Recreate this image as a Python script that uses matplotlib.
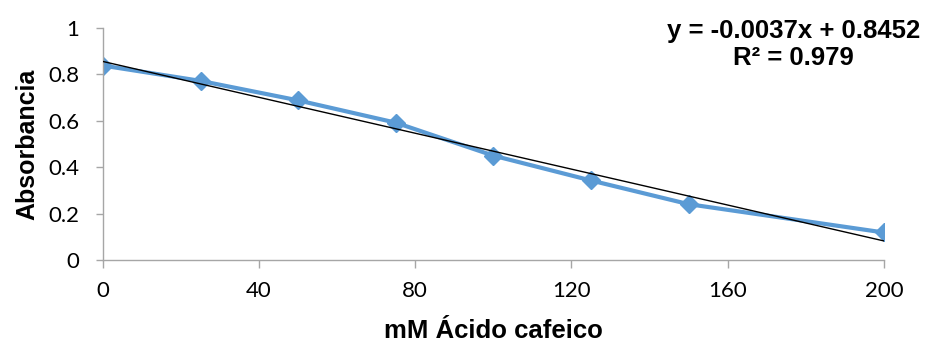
import matplotlib

matplotlib.use("Agg")
import matplotlib.pyplot as plt  # noqa: E402
import numpy as np  # noqa: E402

# Data
conc_mM = [0, 25, 50, 75, 100, 125, 150, 200]
absorbance = [0.838, 0.772, 0.688, 0.592, 0.450, 0.343, 0.241, 0.119]
# equation as printed on the chart
eq_slope, eq_intercept = -0.0037, 0.8452
r_squared = 0.979
x_ticks = [0, 40, 80, 120, 160, 200]
y_ticks = [0, 0.2, 0.4, 0.6, 0.8, 1]

plt.rcParams["font.family"] = ["Liberation Sans", "DejaVu Sans"]

fig = plt.figure(figsize=(9.27, 3.45), dpi=100)
ax = fig.add_axes([0.111, 0.246, 0.8425, 0.673])

ax.plot(conc_mM, absorbance, color="#5B9BD5", lw=3, marker="D", ms=9,
        zorder=2, solid_joinstyle="round")

# linear trendline (least squares on the plotted points)
fit = np.polyfit(conc_mM, absorbance, 1)
xfit = np.array([conc_mM[0], conc_mM[-1]])
ax.plot(xfit, np.polyval(fit, xfit), color="black", lw=1, zorder=3)

ax.set_xlim(0, 200)
ax.set_ylim(0, 1)
ax.set_xticks(x_ticks)
ax.set_yticks(y_ticks)
ax.set_xticklabels([str(v) for v in x_ticks], family="Lato")
ax.set_yticklabels(["0", "0.2", "0.4", "0.6", "0.8", "1"], family="Lato")

for side in ("top", "right"):
    ax.spines[side].set_visible(False)
for side in ("left", "bottom"):
    ax.spines[side].set_color("#A6A6A6")
    ax.spines[side].set_linewidth(1)
ax.tick_params(axis="both", colors="#A6A6A6", labelcolor="black",
               labelsize=16, width=1, direction="out")
ax.tick_params(axis="x", length=5.8, pad=9)
ax.tick_params(axis="y", length=5, pad=12)

ax.set_xlabel("mM Ácido cafeico", fontsize=18.5, fontweight="bold", labelpad=13.5)
ax.set_ylabel("Absorbancia", fontsize=18, fontweight="bold", labelpad=6)

fig.text(0.856, 0.87, f"y = {eq_slope}x + {eq_intercept}\nR² = {r_squared}",
         ha="center", va="center", fontsize=18.5, fontweight="bold",
         linespacing=1.15)

fig.savefig("out.png", dpi=100)
